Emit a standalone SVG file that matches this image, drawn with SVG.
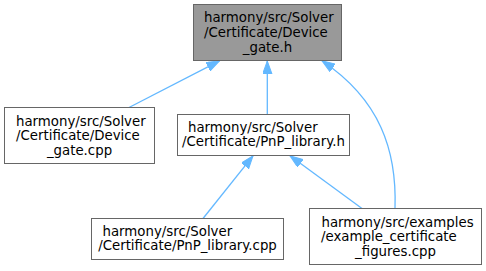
<svg xmlns="http://www.w3.org/2000/svg" width="486" height="271" viewBox="0 0 486 271">
<style>
.box{fill:#ffffff;stroke:#666666;stroke-width:1}
.cur{fill:#999999;stroke:#666666;stroke-width:1}
text{font-family:"DejaVu Sans","Liberation Sans",sans-serif;font-size:13.33px;fill:#000000}
.m{text-anchor:middle}
.edge{fill:none;stroke:#63b8ff;stroke-width:1.3;marker-end:url(#ah)}
</style>
<defs>
<marker id="ah" markerUnits="userSpaceOnUse" markerWidth="14" markerHeight="10" refX="13" refY="4.7" orient="auto" viewBox="0 0 14 10">
<path d="M0,0 L13,4.7 L0,9.4 z" fill="#63b8ff" stroke="#63b8ff" stroke-width="1"/>
</marker>
</defs>
<g id="connectors">
<path class="edge" d="M128,108 L219.5,60.8"/>
<path class="edge" d="M267.3,114 L267.3,61"/>
<path class="edge" d="M395,208.5 C397,150 380,100 322,60.8"/>
<path class="edge" d="M203,218.5 L253,155.8"/>
<path class="edge" d="M362,208.5 L290,155.8"/>
</g>
<g id="node1">
<rect class="cur" x="193.5" y="4.5" width="148" height="56"/>
<text x="204" y="22.3">harmony/src/Solver</text>
<text x="204" y="36.9">/Certificate/Device</text>
<text class="m" x="267.5" y="51.5">_gate.h</text>
</g>
<g id="node2">
<rect class="box" x="4.5" y="107.5" width="150" height="56"/>
<text x="16" y="125.8">harmony/src/Solver</text>
<text x="16" y="140.4">/Certificate/Device</text>
<text class="m" x="79.5" y="155">_gate.cpp</text>
</g>
<g id="node3">
<rect class="box" x="177.5" y="114.5" width="172" height="41"/>
<text x="188" y="131.5">harmony/src/Solver</text>
<text class="m" x="263.5" y="146.2">/Certificate/PnP_library.h</text>
</g>
<g id="node4">
<rect class="box" x="91.5" y="218.5" width="192" height="41"/>
<text x="102.5" y="235.5">harmony/src/Solver</text>
<text class="m" x="187.5" y="250.2">/Certificate/PnP_library.cpp</text>
</g>
<g id="node5">
<rect class="box" x="309.5" y="208.5" width="172" height="56"/>
<text x="321.5" y="226.5">harmony/src/examples</text>
<text x="321" y="241.1">/example_certificate</text>
<text class="m" x="395.5" y="255.7">_figures.cpp</text>
</g>
</svg>
